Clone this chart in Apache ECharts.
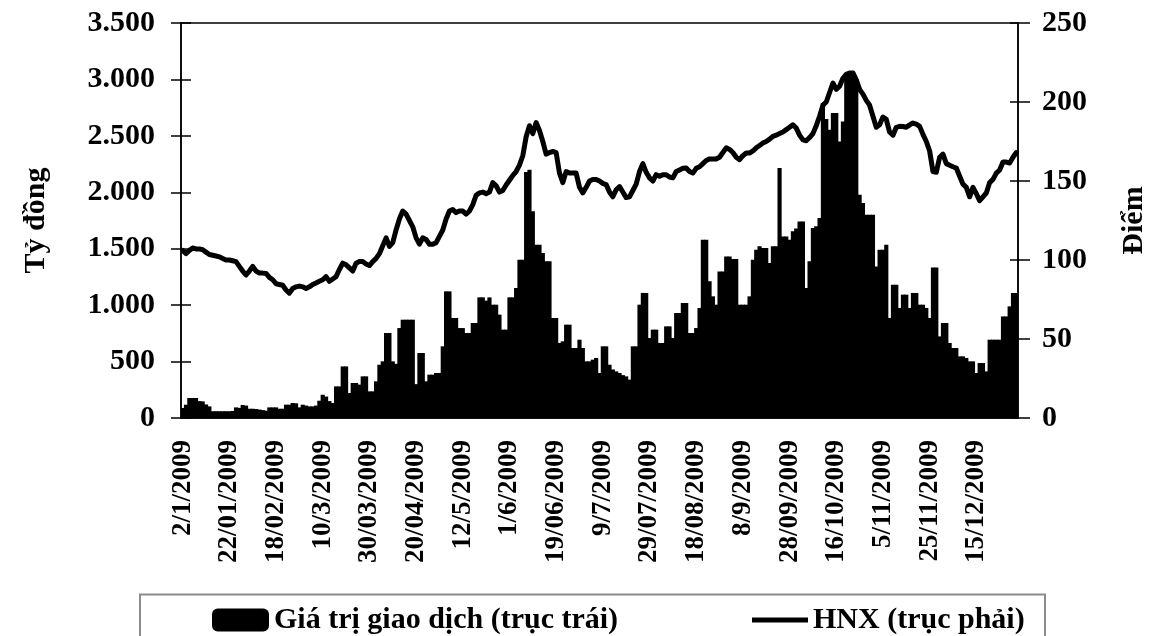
<!DOCTYPE html>
<html>
<head>
<meta charset="utf-8">
<title>Giá trị giao dịch và HNX 2009</title>
<script src="https://cdn.jsdelivr.net/npm/echarts@6/dist/echarts.min.js"></script>
<style>
  html, body { margin: 0; padding: 0; background: #fff; }
  #chart { width: 1163px; height: 636px; }
</style>
</head>
<body>
<div id="chart"></div>
<script>
// ngày giao dịch 2009, mỗi mảng một tháng
const ngayT1 = [2, 5, 6, 7, 8, 9, 12, 13, 14, 15, 16, 19, 20, 21, 22, 23];
const ngayT2 = [2, 3, 4, 5, 6, 9, 10, 11, 12, 13, 16, 17, 18, 19, 20, 23, 24, 25, 26, 27];
const ngayT3 = [2, 3, 4, 5, 6, 9, 10, 11, 12, 13, 16, 17, 18, 19, 20, 23, 24, 25, 26, 27, 30, 31];
const ngayT4 = [1, 2, 3, 7, 8, 9, 10, 13, 14, 15, 16, 17, 20, 21, 22, 23, 24, 27, 28, 29];
const ngayT5 = [4, 5, 6, 7, 8, 11, 12, 13, 14, 15, 18, 19, 20, 21, 22, 25, 26, 27, 28, 29];
const ngayT6 = [1, 2, 3, 4, 5, 8, 9, 10, 11, 12, 15, 16, 17, 18, 19, 22, 23, 24, 25, 26, 29, 30];
const ngayT7 = [1, 2, 3, 6, 7, 8, 9, 10, 13, 14, 15, 16, 17, 20, 21, 22, 23, 24, 27, 28, 29, 30, 31];
const ngayT8 = [3, 4, 5, 6, 7, 10, 11, 12, 13, 14, 17, 18, 19, 20, 21, 24, 25, 26, 27, 28, 31];
const ngayT9 = [1, 3, 4, 7, 8, 9, 10, 11, 14, 15, 16, 17, 18, 21, 22, 23, 24, 25, 28, 29, 30];
const ngayT10 = [1, 2, 5, 6, 7, 8, 9, 12, 13, 14, 15, 16, 19, 20, 21, 22, 23, 26, 27, 28, 29, 30];
const ngayT11 = [2, 3, 4, 5, 6, 9, 10, 11, 12, 13, 16, 17, 18, 19, 20, 23, 24, 25, 26, 27, 30];
const ngayT12 = [1, 2, 3, 4, 7, 8, 9, 10, 11, 14, 15, 16, 17, 18, 21, 22, 23, 24, 25, 28, 29, 30, 31];
const cacThang = [ngayT1, ngayT2, ngayT3, ngayT4, ngayT5, ngayT6, ngayT7, ngayT8, ngayT9, ngayT10, ngayT11, ngayT12];

// giá trị giao dịch (tỷ đồng), theo tháng
const giaTri = [
  89, 118, 177, 177, 177, 150, 147, 120, 103, 60, 60, 60, 60, 60, 60, 62,
  94, 90, 115, 110, 82, 82, 80, 75, 70, 65, 94, 94, 94, 82, 82, 118, 118, 133, 130, 94,
  118, 110, 103, 103, 110, 153, 206, 190, 150, 133, 280, 280, 457, 457, 221, 310, 310, 296, 369, 369, 236, 236,
  325, 472, 502, 753, 753, 502, 480, 797, 871, 871, 871, 871, 300, 576, 576, 325, 384, 384, 399, 399,
  635, 1122, 1122, 886, 886, 797, 797, 753, 753, 842, 842, 1069, 1069, 1040, 1069, 1004, 1004, 916, 783, 783,
  1069, 1069, 1152, 1403, 1403, 2180, 2200, 1831, 1536, 1536, 1462, 1388, 1388, 886, 886, 665, 679, 827, 827, 620, 620, 694,
  620, 502, 502, 517, 532, 399, 635, 635, 472, 430, 413, 399, 380, 369, 340, 635, 635, 1004, 1108, 1108, 709, 783, 783,
  665, 665, 812, 812, 709, 930, 930, 1019, 1019, 753, 753, 797, 975, 1580, 1580, 1211, 1078, 1004, 1299, 1299, 1432,
  1432, 1408, 1408, 1004, 1004, 1004, 1078, 1403, 1491, 1521, 1506, 1506, 1373, 1521, 1521, 2215, 1609, 1609, 1580, 1654, 1680,
  1742, 1742, 1152, 1388, 1684, 1700, 1772, 2791, 2650, 2555, 2703, 2703, 2450, 2628, 3057, 3057, 3057, 3000, 1979, 1905, 1801, 1801,
  1801, 1343, 1491, 1491, 1536, 886, 1181, 1181, 975, 1093, 1093, 975, 1108, 1108, 1004, 1004, 975, 886, 1334, 1334, 723,
  842, 842, 665, 620, 620, 546, 546, 532, 502, 502, 399, 487, 487, 413, 694, 694, 694, 694, 900, 900, 989, 1108, 1108
];

// chỉ số HNX (điểm), theo tháng
const hnx = [
  106, 104, 106, 107.6, 107, 107, 106.5, 105, 103.5, 103, 102.5, 102, 101, 100, 100, 99.5,
  99, 96, 93, 90.5, 93, 96, 93, 91.8, 91.7, 91.5, 89, 87.5, 85, 84.5, 84, 81, 79, 82, 83, 83.5,
  83, 82, 83, 84.5, 85.5, 86.5, 87.5, 89.5, 86.5, 88, 89.5, 94, 98, 97, 95, 93, 98, 99, 99, 97.5, 96.5, 99,
  101, 104, 109, 114, 108.6, 111, 119, 126, 131, 129, 125, 121, 114, 110, 114, 113, 110, 110, 111, 115,
  119, 126, 131, 132, 130, 131, 131, 129, 131, 135, 141, 142.5, 143, 142, 143, 149, 147, 143, 144, 147.5,
  150.5, 153.5, 156, 160, 166, 178, 185, 180, 187, 182, 175, 167, 168, 168.7, 168, 155, 149, 156, 155, 155, 155, 146,
  142.5, 146, 150, 151, 151, 150, 148.5, 147.7, 143, 140, 144.5, 146.5, 143, 139.5, 140, 144, 148, 156, 161, 155.5, 152, 150, 154,
  153, 154, 154, 152.5, 152, 156, 157, 158, 158.2, 156, 155, 158, 159, 161, 163, 164, 164, 164, 165, 168, 171,
  170, 168, 165, 163.5, 166, 167.7, 167.7, 169, 171, 172.5, 174, 175, 176.5, 178.3, 179, 180, 181, 182.5, 184, 185.6, 183.5,
  179, 176, 175.5, 177.5, 180, 185, 191, 198, 200, 206, 212, 208, 210, 215, 217.5, 218.4, 218.4, 214, 208, 205, 201, 198,
  191, 184, 185.6, 190.5, 189, 181, 179, 184, 184.6, 184.5, 184, 185.5, 186.7, 186, 184.6, 179.5, 175, 169, 156, 155.5, 165,
  167, 161, 160, 159, 158.2, 153, 148, 146, 140, 146, 142, 137.5, 140, 142.4, 149, 151, 155, 157, 162, 162, 161.4, 165, 168
];

const tenCot = 'Giá trị giao dịch (trục trái)';
const tenDuong = 'HNX (trục phải)';

function pad (n) {
  return n < 10 ? '0' + n : '' + n;
}

// nhãn ngày kiểu Excel gốc: ngày <= 12 không đệm số 0
const ngay = [];
cacThang.forEach((days, k) => {
  const m = k + 1;
  days.forEach((d) => {
    ngay.push(d > 12 ? pad(d) + '/' + pad(m) + '/2009' : d + '/' + m + '/2009');
  });
});

function soVN (v) {
  return String(v).replace(/\B(?=(\d{3})+(?!\d))/g, '.');
}

const font = '"Liberation Serif", "Times New Roman", serif';
const chu = { fontFamily: font, fontWeight: 'bold', color: '#000' };

const myChart = echarts.init(document.getElementById('chart'), null, { renderer: 'canvas' });
myChart.setOption({
  animation: false,
  backgroundColor: '#fff',
  textStyle: chu,
  grid: {
    left: 181,
    right: 145,
    top: 23,
    bottom: 218,
    show: true,
    borderColor: '#000',
    borderWidth: 1.5
  },
  graphic: [{
    type: 'rect',
    shape: { x: 140, y: 594.5, width: 905, height: 60 },
    style: { fill: 'none', stroke: '#8c8c8c', lineWidth: 2 }
  }],
  legend: [{
    data: [{ name: tenCot, icon: 'roundRect' }],
    left: 207,
    top: 600,
    itemWidth: 57,
    itemHeight: 23,
    selectedMode: false,
    textStyle: Object.assign({ fontSize: 30 }, chu)
  }, {
    data: [{ name: tenDuong, icon: 'rect' }],
    left: 747,
    top: 600,
    itemWidth: 56,
    itemHeight: 5,
    selectedMode: false,
    textStyle: Object.assign({ fontSize: 30 }, chu)
  }],
  xAxis: {
    type: 'category',
    data: ngay,
    boundaryGap: true,
    axisLine: { lineStyle: { color: '#000', width: 1.5 } },
    axisTick: { interval: 13, length: 7, lineStyle: { color: '#000', width: 1.5 } },
    axisLabel: Object.assign({ interval: 13, rotate: 90, margin: 22, fontSize: 27 }, chu),
    splitLine: { show: false }
  },
  yAxis: [{
    type: 'value',
    position: 'left',
    min: 0,
    max: 3500,
    interval: 500,
    name: 'Tỷ đồng',
    nameLocation: 'middle',
    nameRotate: 90,
    nameGap: 130,
    nameTextStyle: Object.assign({ fontSize: 30 }, chu),
    axisLine: { show: true, lineStyle: { color: '#000', width: 1.5 } },
    axisTick: { show: true, length: 10, lineStyle: { color: '#000', width: 1.5 } },
    axisLabel: Object.assign({ fontSize: 30, margin: 26, formatter: soVN }, chu),
    splitLine: { show: false }
  }, {
    type: 'value',
    position: 'right',
    min: 0,
    max: 250,
    interval: 50,
    name: 'Điểm',
    nameLocation: 'middle',
    nameRotate: 90,
    nameGap: 101,
    nameTextStyle: Object.assign({ fontSize: 30 }, chu),
    axisLine: { show: true, lineStyle: { color: '#000', width: 1.5 } },
    axisTick: { show: true, length: 12, lineStyle: { color: '#000', width: 1.5 } },
    axisLabel: Object.assign({ fontSize: 30, margin: 24 }, chu),
    splitLine: { show: false }
  }, {
    // vạch chia phía trong trục trái
    type: 'value',
    position: 'left',
    min: 0,
    max: 3500,
    interval: 500,
    axisLine: { show: false },
    axisTick: { show: true, inside: true, length: 10, lineStyle: { color: '#000', width: 1.5 } },
    axisLabel: { show: false },
    splitLine: { show: false }
  }, {
    // vạch chia phía trong trục phải
    type: 'value',
    position: 'right',
    min: 0,
    max: 250,
    interval: 50,
    axisLine: { show: false },
    axisTick: { show: true, inside: true, length: 8, lineStyle: { color: '#000', width: 1.5 } },
    axisLabel: { show: false },
    splitLine: { show: false }
  }],
  series: [{
    name: tenCot,
    type: 'bar',
    yAxisIndex: 0,
    data: giaTri,
    barWidth: '125%',
    itemStyle: { color: '#000' }
  }, {
    name: tenDuong,
    type: 'line',
    yAxisIndex: 1,
    data: hnx,
    symbol: 'none',
    z: 5,
    lineStyle: { color: '#000', width: 5, join: 'round', cap: 'round' },
    itemStyle: { color: '#000' }
  }]
});
</script>
</body>
</html>
